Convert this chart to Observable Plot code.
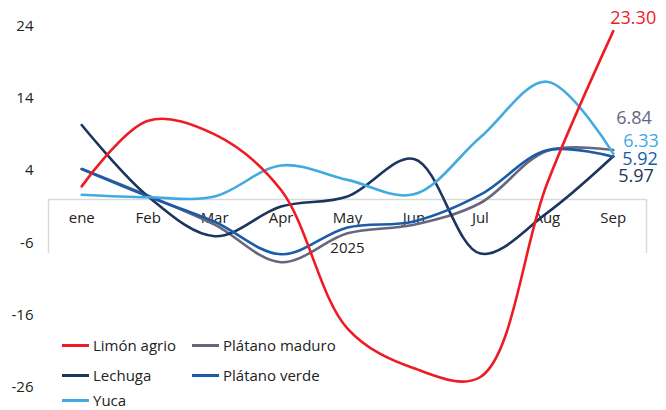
<!DOCTYPE html>
<html><head><meta charset="utf-8">
<script src="https://cdn.jsdelivr.net/npm/d3@7"></script>
<script src="https://cdn.jsdelivr.net/npm/@observablehq/plot@0.6"></script>
<style>
body{margin:0;background:#fff;font-family:"Open Sans",sans-serif;}
#wrap{position:relative;width:666px;height:410px;overflow:hidden}
#wrap svg{display:block}
.leg{position:absolute;display:flex;align-items:center;height:18px;font-size:15px;color:#222;white-space:nowrap;font-family:"Open Sans",sans-serif}
.sw{display:inline-block;width:27px;height:3px;margin-right:4px}
</style></head><body><div id="wrap"></div>
<script>
const months = ["ene","Feb","Mar","Apr","May","Jun","Jul","Aug","Sep"];
const yearLabel = "2025";
const seriesNames = ["Limón agrio","Lechuga","Plátano maduro","Plátano verde","Yuca"];
const limon = [1.8, 10.9, 9.0, 1.3, -17.9, -23.4, -24.6, 2.1, 23.30];
const lechuga = [10.3, 0.4, -5.1, -1.0, 0.4, 5.6, -7.5, -1.9, 5.97];
const platanoMaduro = [4.2, 0.5, -3.5, -8.7, -4.7, -3.5, -0.5, 6.7, 6.84];
const platanoVerde = [4.2, 0.4, -3.1, -7.6, -3.9, -3.05, 0.65, 6.8, 5.92];
const yuca = [0.65, 0.3, 0.4, 4.7, 2.7, 0.7, 8.6, 16.3, 6.33];
const yTicks = [24, 14, 4, -6, -16, -26];

const colors = {"Limón agrio":"#ED1C24","Lechuga":"#1C355E","Plátano maduro":"#67667F","Plátano verde":"#1A5CA8","Yuca":"#41AADF"};
const valuesBy = {"Limón agrio":limon,"Lechuga":lechuga,"Plátano maduro":platanoMaduro,"Plátano verde":platanoVerde,"Yuca":yuca};
const drawOrder = ["Plátano maduro","Lechuga","Plátano verde","Yuca","Limón agrio"];
const rows = drawOrder.flatMap(s => valuesBy[s].map((v, i) => ({series: s, i, value: v})));
const last = months.length - 1;
const endLabels = [
  {s:"Limón agrio", dx:-3, dy:-13},
  {s:"Plátano maduro", dx:3, dy:-32},
  {s:"Yuca", dx:10, dy:-12},
  {s:"Plátano verde", dx:9, dy:3},
  {s:"Lechuga", dx:5, dy:20}
];
const xEdges = [-0.5, months.length - 0.5];

const chart = Plot.plot({
  width: 666, height: 410,
  marginLeft: 48, marginRight: 20, marginTop: 25.6, marginBottom: 23.4,
  x: {type: "linear", domain: xEdges, axis: null},
  y: {domain: [-26, 24], axis: null},
  color: {domain: seriesNames, range: seriesNames.map(s => colors[s])},
  style: {fontFamily: "'Open Sans', sans-serif", background: "white", overflow: "visible"},
  marks: [
    Plot.ruleY([0], {x1: xEdges[0], x2: xEdges[1], stroke: "#d9d9d9", strokeWidth: 1.5}),
    Plot.ruleX(xEdges, {y1: 0, y2: -7.5, stroke: "#d9d9d9", strokeWidth: 1.5}),
    Plot.axisY({ticks: yTicks, tickSize: 0, tickPadding: 15, fontSize: 15, color: "#222", label: null, tickFormat: d => String(d)}),
    Plot.text(months, {x: (d, i) => i, y: () => 0, dy: 19, fontSize: 15, fill: "#222"}),
    Plot.text([yearLabel], {x: () => (months.length - 1) / 2, y: () => 0, dy: 49, fontSize: 15, fill: "#222"}),
    Plot.line(rows, {x: "i", y: "value", z: "series", stroke: "series", curve: "catmull-rom", strokeWidth: 2.6}),
    ...endLabels.map(l => Plot.text([valuesBy[l.s][last]], {
      x: () => last, y: d => d, text: d => d.toFixed(2),
      textAnchor: "start", dx: l.dx, dy: l.dy, fontSize: 18, fill: colors[l.s]
    }))
  ]
});
const wrap = document.getElementById("wrap");
wrap.appendChild(chart);

const legendItems = [
  {s:"Limón agrio", left:62, top:336},
  {s:"Plátano maduro", left:192, top:336},
  {s:"Lechuga", left:62, top:366},
  {s:"Plátano verde", left:192, top:366},
  {s:"Yuca", left:62, top:391}
];
for (const it of legendItems) {
  const d = document.createElement("div");
  d.className = "leg";
  d.style.left = it.left + "px";
  d.style.top = it.top + "px";
  d.innerHTML = `<span class="sw" style="background:${colors[it.s]}"></span><span>${it.s}</span>`;
  wrap.appendChild(d);
}
</script></body></html>
